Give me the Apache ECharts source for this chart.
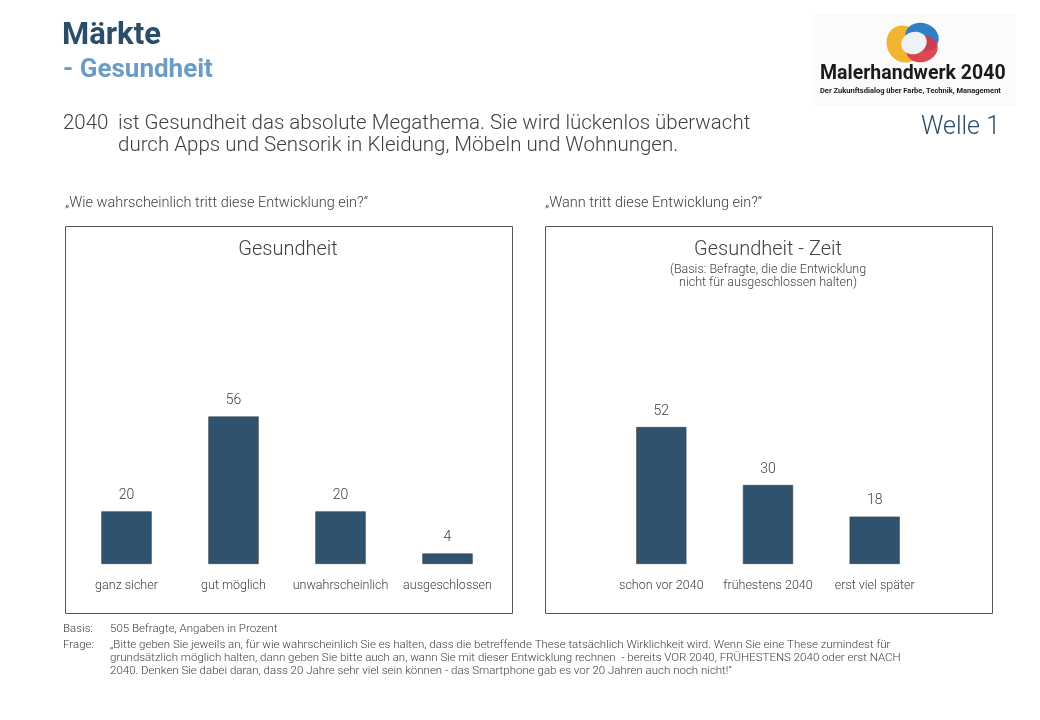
<!DOCTYPE html>
<html>
<head>
<meta charset="utf-8">
<script src="https://cdn.jsdelivr.net/npm/echarts@6/dist/echarts.min.js"></script>
<style>
  html, body { margin: 0; padding: 0; background: #fff; }
  #chart { width: 1040px; height: 720px; }
</style>
</head>
<body>
<div id="chart"></div>
<script>
// Wahrscheinlichkeit
const likelyCategories = ["ganz sicher", "gut möglich", "unwahrscheinlich", "ausgeschlossen"];
const likelyValues = [20, 56, 20, 4];
// Zeitpunkt
const timeCategories = ["schon vor 2040", "frühestens 2040", "erst viel später"];
const timeValues = [52, 30, 18];

const FONT = "Roboto";
const TEXT = "#404040";
const BAR = "#2f536f";

const chart = echarts.init(document.getElementById("chart"));

function barSeries(idx, data) {
    return {
        type: "bar",
        xAxisIndex: idx,
        yAxisIndex: idx,
        data: data,
        barWidth: "47%",
        itemStyle: { color: BAR, borderColor: "#3a3a3a", borderWidth: 0.6 },
        label: {
            show: true,
            position: "top",
            distance: 9,
            color: TEXT,
            fontFamily: FONT,
            fontWeight: 300,
            fontSize: 14
        },
        silent: true
    };
}

function catAxis(idx, data) {
    return {
        type: "category",
        gridIndex: idx,
        data: data,
        axisLine: { show: false },
        axisTick: { show: false },
        axisLabel: { color: TEXT, fontFamily: FONT, fontWeight: 300, fontSize: 12.5, margin: 15, interval: 0 }
    };
}

function valAxis(idx) {
    return {
        type: "value",
        gridIndex: idx,
        min: 0,
        max: 60,
        show: false,
        splitLine: { show: false }
    };
}

const option = {
    animation: false,
    grid: [
        { left: 73, width: 428, top: 406, bottom: 156 },
        { left: 608, width: 320, top: 406, bottom: 156 }
    ],
    xAxis: [catAxis(0, likelyCategories), catAxis(1, timeCategories)],
    yAxis: [valAxis(0), valAxis(1)],
    series: [barSeries(0, likelyValues), barSeries(1, timeValues)],
    graphic: [
        // header
        { type: "text", left: 62, top: 21, style: { text: "Märkte", fill: "#2a4d69", font: "bold 31px " + FONT } },
        { type: "text", left: 63, top: 57, style: { text: "- Gesundheit", fill: "#6a9cc5", font: "bold 26px " + FONT } },
        { type: "text", left: 63, top: 113, style: { text: "2040", fill: TEXT, font: "300 20.5px " + FONT } },
        { type: "text", left: 118, top: 113, style: { text: "ist Gesundheit das absolute Megathema. Sie wird lückenlos überwacht\ndurch Apps und Sensorik in Kleidung, Möbeln und Wohnungen.", fill: TEXT, font: "300 20.5px " + FONT, lineHeight: 22 } },
        { type: "text", right: 40, top: 115, style: { text: "Welle 1", fill: "#2a4d69", font: "300 25px " + FONT } },

        // logo
        { type: "rect", shape: { x: 812, y: 14, width: 204, height: 92 }, style: { fill: "#fbfbfb" } },
        { type: "ellipse", shape: { cx: 904, cy: 44, rx: 17, ry: 19 }, rotation: 0.5, originX: 904, originY: 44, style: { fill: "#f2b530" } },
        { type: "ellipse", shape: { cx: 922, cy: 37, rx: 17, ry: 14 }, rotation: -0.3, originX: 922, originY: 37, style: { fill: "#2f7fc4" } },
        { type: "ellipse", shape: { cx: 922, cy: 49, rx: 16, ry: 13 }, rotation: 0.3, originX: 922, originY: 49, style: { fill: "#d83848", opacity: 0.92 } },
        { type: "ellipse", shape: { cx: 914, cy: 43, rx: 13, ry: 11 }, rotation: 0.4, originX: 914, originY: 43, style: { fill: "#eef2f6" } },
        { type: "text", left: 820, top: 64, style: { text: "Malerhandwerk 2040", fill: "#1a1a1a", font: "bold 19.5px " + FONT } },
        { type: "text", left: 820, top: 87, style: { text: "Der Zukunftsdialog über Farbe, Technik, Management", fill: "#1a1a1a", font: "bold 7.5px " + FONT } },

        // questions
        { type: "text", left: 65, top: 196, style: { text: "„Wie wahrscheinlich tritt diese Entwicklung ein?“", fill: TEXT, font: "300 14.5px " + FONT } },
        { type: "text", left: 545, top: 196, style: { text: "„Wann tritt diese Entwicklung ein?“", fill: TEXT, font: "300 14.5px " + FONT } },

        // panel frames
        { type: "rect", shape: { x: 65.5, y: 226.5, width: 447, height: 387 }, style: { fill: null, stroke: "#555", lineWidth: 1 }, z: -1 },
        { type: "rect", shape: { x: 545.5, y: 226.5, width: 447, height: 387 }, style: { fill: null, stroke: "#555", lineWidth: 1 }, z: -1 },

        // panel titles
        { type: "text", x: 288, y: 250, style: { text: "Gesundheit", fill: TEXT, font: "300 20px " + FONT, align: "center", verticalAlign: "middle" } },
        { type: "text", x: 768, y: 250, style: { text: "Gesundheit - Zeit", fill: TEXT, font: "300 20px " + FONT, align: "center", verticalAlign: "middle" } },
        { type: "text", x: 768, y: 276, style: { text: "(Basis: Befragte, die die Entwicklung\nnicht für ausgeschlossen halten)", fill: TEXT, font: "300 12.5px " + FONT, align: "center", verticalAlign: "middle", lineHeight: 13 } },

        // footer
        { type: "text", left: 63, top: 623, style: { text: "Basis:", fill: TEXT, font: "300 11.5px " + FONT } },
        { type: "text", left: 110, top: 623, style: { text: "505 Befragte, Angaben in Prozent", fill: TEXT, font: "300 11.5px " + FONT } },
        { type: "text", left: 63, top: 639, style: { text: "Frage:", fill: TEXT, font: "300 11.5px " + FONT } },
        { type: "text", left: 110, top: 639, style: { text: "„Bitte geben Sie jeweils an, für wie wahrscheinlich Sie es halten, dass die betreffende These tatsächlich Wirklichkeit wird. Wenn Sie eine These zumindest für\ngrundsätzlich möglich halten, dann geben Sie bitte auch an, wann Sie mit dieser Entwicklung rechnen  - bereits VOR 2040, FRÜHESTENS 2040 oder erst NACH\n2040. Denken Sie dabei daran, dass 20 Jahre sehr viel sein können - das Smartphone gab es vor 20 Jahren auch noch nicht!“", fill: TEXT, font: "300 11.5px " + FONT, lineHeight: 13 } }
    ]
};

chart.setOption(option);
</script>
</body>
</html>
